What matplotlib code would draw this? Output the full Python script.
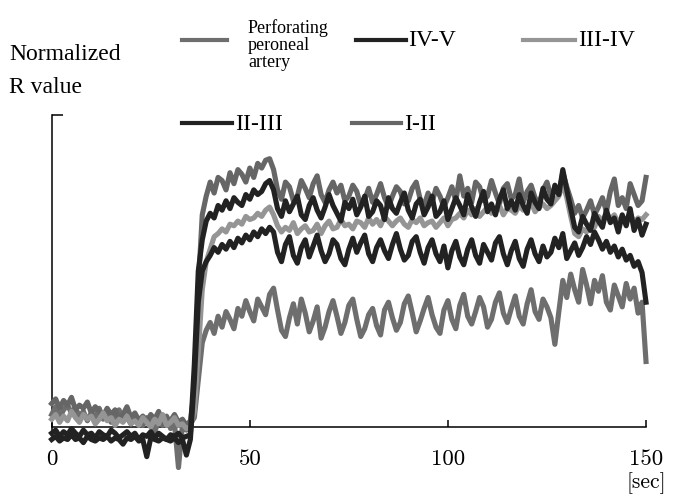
import matplotlib
matplotlib.use("Agg")
import matplotlib.pyplot as plt
from matplotlib.lines import Line2D
import numpy as np

# time axis, one sample per second
seconds = np.arange(0, 151)

# normalized R values (axis line = 0, top tick = 100)
perforating = [
    4.0, 6.5, 3.0, 5.5, 7.0, 4.5, 6.0, 3.5, 5.0, 2.0, 4.5, 3.0, 6.0, 2.5, 4.0, 1.5, 3.5, 5.5,
    2.0, 3.0, 1.0, 4.0, 2.5, 0.5, 3.0, 1.5, -1.5, 2.0, 0.5, 3.5, -0.5, 1.0, -13.0, 0.5, -1.0, 1.0,
    3.0, 15.0, 27.0, 31.0, 33.5, 30.0, 35.5, 32.0, 37.0, 34.5,
    31.5, 38.0, 35.5, 40.5, 37.0, 34.0, 41.0, 38.5, 36.0, 42.5,
    44.5, 37.5, 31.0, 29.0, 35.0, 39.5, 33.0, 41.0, 36.5, 30.5,
    34.0, 38.5, 28.5, 32.0, 37.0, 40.5, 35.5, 30.0, 33.5, 39.0,
    41.0, 34.5, 29.0, 31.5, 36.0, 38.0, 32.5, 29.5, 37.5, 40.0,
    35.0, 31.0, 33.5, 39.5, 42.0, 36.5, 30.5, 34.0, 38.0, 41.5,
    36.0, 32.0, 30.0, 37.5, 40.5, 34.5, 31.5, 39.0, 42.5, 35.5,
    33.0, 37.0, 41.5, 38.5, 32.0, 34.5, 40.0, 43.0, 36.5, 33.5,
    38.0, 42.0, 35.5, 33.0, 39.5, 44.0, 37.0, 34.5, 41.0, 38.5,
    35.0, 26.5, 37.0, 47.0, 41.5, 49.0, 44.0, 40.0, 50.5, 45.5,
    39.5, 47.0, 43.5, 48.5, 40.0, 37.5, 45.5, 42.0, 38.5, 46.0,
    41.0, 44.5, 36.5, 40.0, 21.0,
]
iv_v = [
    -2.0, -1.0, -3.0, -1.5, -2.5, -0.5, -2.0, -3.0, -1.0, -2.5, -2.0, -3.5, -1.5, -2.5, -3.0, -1.0,
    -2.0, -3.5, -2.5, -1.5, -3.0, -2.0, -4.0, -2.5, -3.0, -1.5, -3.5, -2.0, -3.0, -4.0, -2.5, -3.0,
    -2.0, -3.5, -3.0, -2.5,
    20.0, 50.0, 60.0, 66.0, 68.5, 67.0, 71.0, 69.5, 72.5, 70.0,
    73.5, 72.0, 71.0, 74.5, 73.0, 76.0, 74.5, 75.5, 78.0, 79.0,
    76.0, 70.0, 67.5, 72.5, 69.0, 71.5, 74.0, 68.0, 66.5, 71.0,
    73.5, 69.5, 67.0, 70.5, 74.5, 71.0, 68.5, 66.0, 72.0, 70.0,
    73.0, 68.0, 70.5, 74.0, 67.5, 69.0, 72.5, 71.0, 66.5, 73.5,
    70.0, 68.5, 72.0, 75.0, 69.5, 67.0, 71.5, 73.0, 68.0, 70.5,
    74.0, 67.5, 69.0, 72.5, 66.5, 70.0, 73.5, 71.0, 68.0, 74.5,
    70.5, 67.5, 72.0, 75.5, 69.0, 71.5, 68.0, 73.0, 76.0, 70.0,
    72.5, 69.5, 74.5, 71.0, 68.5, 75.0, 72.0, 70.0, 76.5, 73.0,
    71.5, 77.5, 74.5, 82.5, 76.0, 70.0, 64.0, 62.5, 67.5, 65.0,
    63.0, 68.5, 66.0, 64.0, 69.5, 65.5, 67.0, 62.5, 68.0, 64.5,
    70.0, 63.0, 66.5, 61.5, 65.0,
]
iii_iv = [
    2.5, 4.0, 1.5, 3.5, 2.0, 5.0, 3.0, 1.5, 4.0, 2.5, 3.5, 1.0, 2.5, 4.5, 2.0, 3.0, 0.5, 2.5,
    1.5, 3.5, 1.0, 2.0, 0.5, 3.0, 1.5, 0.0, 2.5, 1.0, 4.0, 0.5, 1.5, 3.0, 0.5, 1.0, -0.5, 0.0,
    5.0, 24.0, 44.0, 53.0, 57.0, 61.0, 62.0, 63.5, 62.5, 65.0,
    64.5, 66.0, 65.0, 67.5, 66.5, 67.0, 68.5, 67.5, 69.5, 70.5,
    68.0, 64.5, 62.5, 64.0, 63.0, 65.5, 62.0, 63.5, 64.5, 62.5,
    63.0, 65.0, 62.0, 64.5, 66.0, 63.5, 64.0, 66.5, 64.5, 65.0,
    63.5, 66.0, 65.5, 64.0, 67.0, 65.0, 66.5, 64.5, 67.5, 66.0,
    64.5, 66.0, 67.0, 65.0, 64.0, 66.5, 65.5, 67.0, 64.5, 65.5,
    66.0, 64.0, 65.5, 67.0, 64.5, 66.5, 67.0, 68.5, 67.0, 69.5,
    68.0, 70.0, 67.5, 69.0, 70.5, 68.5, 69.5, 71.0, 68.0, 70.0,
    69.5, 68.5, 71.0, 69.5, 70.0, 72.0, 69.0, 70.5, 71.5, 70.0,
    71.0, 72.5, 74.0, 78.0, 73.5, 67.5, 62.0, 61.0, 63.5, 62.5,
    65.0, 64.0, 67.5, 66.0, 68.5, 66.5, 68.0, 65.5, 67.5, 66.0,
    68.5, 65.5, 67.0, 66.5, 68.0,
]
ii_iii = [
    -4.0, -3.0, -4.5, -3.5, -4.0, -2.5, -4.0, -3.5, -5.0, -3.0, -4.0, -4.5, -3.5, -4.0, -3.0, -4.5,
    -3.5, -4.0, -5.5, -3.5, -4.0, -3.0, -4.5, -4.0, -9.5, -3.5, -4.0, -4.5, -3.5, -4.0, -4.5, -3.5,
    -5.0, -4.0, -9.0, -4.0,
    15.0, 40.0, 50.0, 53.0, 55.0, 57.5, 56.0, 58.5, 57.0, 59.5,
    57.5, 60.5, 59.0, 61.5, 60.0, 62.5, 61.0, 63.5, 62.0, 64.0,
    62.5, 56.0, 53.0, 58.5, 61.0, 55.0, 52.5, 57.5, 60.0, 54.5,
    58.0, 61.5, 56.5, 53.0, 55.5, 60.0, 58.5, 54.0, 52.0, 57.0,
    60.5, 56.0, 59.0, 61.5, 55.5, 53.0, 57.5, 60.0, 56.5, 54.0,
    58.5, 62.0, 57.0, 53.5, 55.0, 59.5, 61.0, 56.0, 52.5, 57.5,
    60.0, 55.5, 53.0, 58.0, 51.0, 56.5, 59.5, 54.5, 52.0, 57.0,
    60.0, 55.0, 52.5, 58.5, 56.0, 53.5, 59.0, 61.0, 55.5, 52.0,
    56.5, 59.5, 54.0, 51.5, 57.0, 60.0, 55.5, 53.0, 58.0, 54.5,
    56.0, 60.5, 57.5, 62.0, 54.0, 56.5, 59.0, 55.0, 57.5, 61.0,
    58.5, 62.5, 60.0, 57.0, 59.5, 56.0, 58.0, 54.5, 57.0, 53.5,
    55.0, 51.5, 53.0, 49.5, 40.0,
]
i_ii = [
    7.5, 9.0, 6.0, 8.5, 7.0, 9.5, 5.5, 7.0, 6.0, 8.0, 4.5, 6.5, 5.0, 3.5, 6.0, 4.0, 5.5, 2.5,
    4.0, 6.5, 3.0, 4.5, 2.0, 3.5, 1.5, 4.0, 2.5, 5.0, 1.0, 3.0, 2.0, 4.0, 1.5, 2.5, 0.5, 2.0,
    12.0, 45.0, 68.0, 74.0, 78.5, 75.0, 80.0, 79.0, 76.0, 81.5,
    78.0, 82.5, 81.0, 78.5, 83.0, 80.0, 84.5, 83.0, 85.5, 86.0,
    82.5, 76.0, 73.0, 78.5, 77.0, 72.5, 74.0, 79.0, 76.5, 73.5,
    78.0, 80.5, 74.5, 72.0, 76.0, 78.5, 75.0, 77.5, 72.5, 74.0,
    77.5, 75.5, 71.0, 73.0, 76.5, 72.0, 74.5, 78.0, 73.5, 70.5,
    74.0, 77.0, 75.5, 71.5, 72.5, 76.5, 78.5, 73.0, 71.0, 75.0,
    72.0, 76.5, 74.0, 70.5, 73.5, 77.0, 72.5, 80.5, 74.0, 76.5,
    72.0, 78.5, 77.0, 72.5, 74.0, 79.0, 75.0, 71.5, 76.5, 78.0,
    73.0, 74.5, 79.5, 72.0, 75.5, 77.5, 73.5, 71.5, 76.0, 78.5,
    74.0, 76.5, 74.5, 81.5, 77.0, 73.0, 68.5, 71.0, 67.0, 69.5,
    72.5, 68.0, 70.5, 73.5, 69.0, 75.5, 79.5, 71.0, 73.5, 70.0,
    78.0, 74.5, 71.0, 72.5, 80.0,
]

series_names = ["Perforating\nperoneal\nartery", "IV-V", "III-IV", "II-III", "I-II"]
series_values = [perforating, iv_v, iii_iv, ii_iii, i_ii]
series_colors = ["#6e6e6e", "#222222", "#959595", "#222222", "#666666"]
draw_order = [0, 4, 2, 1, 3]

x_ticks = [0, 50, 100, 150]

fig = plt.figure(figsize=(6.73, 4.97), dpi=100)
ax = fig.add_axes([0.0768, 0.0443, 0.8831, 0.7243])

for i in draw_order:
    ax.plot(seconds, series_values[i], color=series_colors[i], lw=3.7,
            solid_joinstyle="round", clip_on=False)

ax.set_xlim(0, 150)
ax.set_ylim(-15.38, 100)

# axis lines like the original: x-axis at zero, short left axis with top tick
ax.spines["top"].set_visible(False)
ax.spines["right"].set_visible(False)
ax.spines["bottom"].set_position(("data", 0))
ax.spines["left"].set_bounds(-3, 100)
for s in ["bottom", "left"]:
    ax.spines[s].set_linewidth(1.1)
    ax.spines[s].set_zorder(0)

ax.set_xticks(x_ticks)
ax.set_xticklabels([str(v) for v in x_ticks], family="cmr10", fontsize=16.5)
ax.tick_params(axis="x", direction="in", length=5, width=1.1, pad=16)
ax.set_yticks([100])
ax.set_yticklabels([])
ax.tick_params(axis="y", direction="in", length=8, width=1.1)

fig.text(0.99, 0.028, "[sec]", family="cmr10", fontsize=15.5, ha="right", va="center")
fig.text(9.4 / 673, 1 - 71 / 497, "Normalized\nR value", family="Liberation Serif",
         fontsize=17, ha="left", va="center", linespacing=1.7)

# legend drawn by hand in two rows, as in the figure
W, H = 673.0, 497.0
legend_slots = [
    (182, 227, 40, 248),
    (356, 406, 40, 408),
    (523, 575, 40, 578),
    (182, 232, 123, 235),
    (352, 401, 123, 404),
]
for i, (x0, x1, y, tx) in enumerate(legend_slots):
    fig.add_artist(Line2D([x0 / W, x1 / W], [1 - y / H, 1 - y / H], color=series_colors[i],
                          lw=3.0, transform=fig.transFigure))
    if i == 0:
        fig.text(tx / W, 1 - 45 / H, series_names[i], family="Liberation Serif", fontsize=13,
                 ha="left", va="center", linespacing=1.0)
    else:
        fig.text(tx / W, 1 - (y + 1) / H, series_names[i], family="Liberation Serif",
                 fontsize=17, ha="left", va="center")

fig.savefig("out.png", dpi=100)
